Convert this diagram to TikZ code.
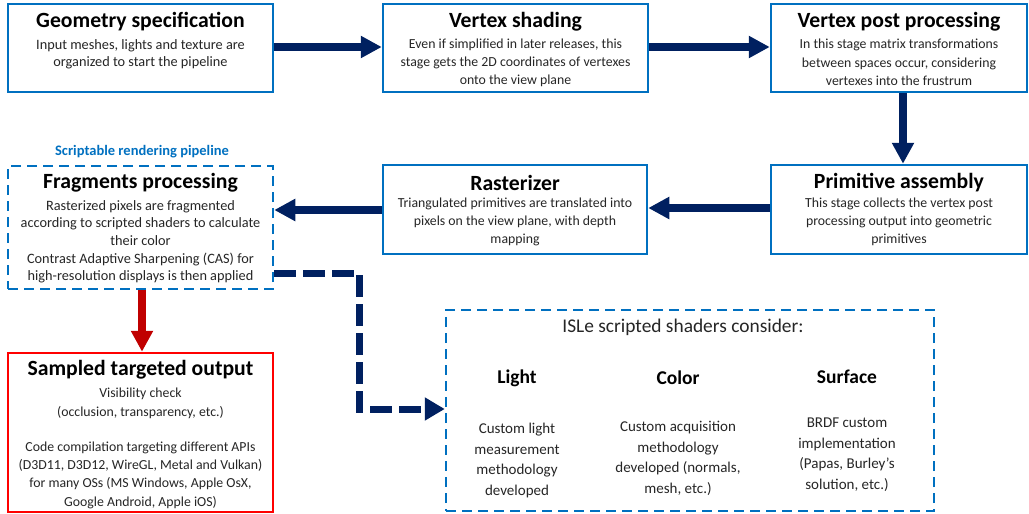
\documentclass[tikz,border=0pt]{standalone}
\usepackage{fontspec}
\setmainfont{Carlito}
\usetikzlibrary{arrows.meta}
\definecolor{boxblue}{RGB}{0,112,192}
\definecolor{navy}{RGB}{0,32,96}
\definecolor{darkred}{RGB}{192,0,0}
\definecolor{brightred}{RGB}{255,0,0}
\definecolor{txt}{RGB}{38,38,38}
\begin{document}
\begin{tikzpicture}[x=1pt,y=-1pt,
  stagebox/.style={draw=boxblue, line width=2.5pt, fill=white, inner sep=0pt},
  dashbox/.style={draw=boxblue, line width=2.5pt, dash pattern=on 10pt off 6pt, fill=white, inner sep=0pt},
  redbox/.style={draw=brightred, line width=2.5pt, fill=white, inner sep=0pt},
  title/.style={font=\fontsize{21.7}{26}\selectfont\bfseries, text=black, inner sep=0pt},
  body/.style={font=\fontsize{13.8}{18.3}\selectfont, text=txt, align=center, anchor=north, inner sep=0pt},
  isbody/.style={font=\fontsize{15}{20.5}\selectfont, text=txt, align=center, anchor=north, inner sep=0pt},
  ishead/.style={font=\fontsize{19.5}{23}\selectfont\bfseries, text=black, inner sep=0pt},
  flow/.style={draw=navy, line width=7.5pt, -{Triangle[width=21pt,length=21pt]}},
  redflow/.style={draw=darkred, line width=7.5pt, -{Triangle[width=21pt,length=21pt]}},
  dashflow/.style={draw=navy, line width=7pt, dash pattern=on 22pt off 7pt, -{Triangle[width=22pt,length=20pt]}}
]
\useasboundingbox (0,0) rectangle (1029,514);

% boxes
\node[stagebox, minimum width=265pt, minimum height=88pt] (geo) at (140.5,48) {};
\node[stagebox, minimum width=265pt, minimum height=88pt] (vs) at (515.5,48) {};
\node[stagebox, minimum width=256pt, minimum height=88pt] (vp) at (899,48) {};
\node[stagebox, minimum width=256pt, minimum height=89pt] (pa) at (899,209.5) {};
\node[stagebox, minimum width=264pt, minimum height=89pt] (ra) at (515,209.5) {};
\node[dashbox, minimum width=265pt, minimum height=123pt] (fp) at (140.5,227.5) {};
\node[redbox, minimum width=265pt, minimum height=159pt] (so) at (140.5,432.5) {};
\node[dashbox, minimum width=488pt, minimum height=201pt] (isle) at (690,410.5) {};

% texts
\node[title] (geoT) at (140.5,22) {Geometry specification};
\node[body, font=\fontsize{14.3}{17}\selectfont] (geoB) at (140.5,39) {Input meshes, lights and texture are\\organized to start the pipeline};

\node[title] (vsT) at (515.5,22) {Vertex shading};
\node[body] (vsB) at (515.5,38.5) {Even if simplified in later releases, this\\stage gets the 2D coordinates of vertexes\\onto the view plane};

\node[title] (vpT) at (899,22) {Vertex post processing};
\node[body] (vpB) at (899,39) {In this stage matrix transformations\\between spaces occur, considering\\vertexes into the frustrum};

\node[title] (paT) at (899,183) {Primitive assembly};
\node[body] (paB) at (899,197.5) {This stage collects the vertex post\\processing output into geometric\\primitives};

\node[title] (raT) at (515,183) {Rasterizer};
\node[body] (raB) at (515,197.5) {Triangulated primitives are translated into\\pixels on the view plane, with depth\\mapping};

\node[font=\fontsize{14.5}{17}\selectfont\bfseries, text=boxblue, inner sep=0pt] (lab) at (142,152) {Scriptable rendering pipeline};
\node[title] (fpT) at (140.5,183) {Fragments processing};
\node[body, font=\fontsize{14.3}{17.7}\selectfont] (fpB) at (140.5,200) {Rasterized pixels are fragmented\\according to scripted shaders to calculate\\their color\\Contrast Adaptive Sharpening (CAS) for\\high-resolution displays is then applied};

\node[title] (soT) at (140.5,370) {Sampled targeted output};
\node[body] (soB) at (140.5,388) {Visibility check\\(occlusion, transparency, etc.)\\[17pt]Code compilation targeting different APIs\\(D3D11, D3D12, WireGL, Metal and Vulkan)\\for many OSs (MS Windows, Apple OsX,\\Google Android, Apple iOS)};

\node[font=\fontsize{19.4}{23}\selectfont, text=txt, inner sep=0pt] (isT) at (683,327) {ISLe scripted shaders consider:};
\node[ishead] (lightH) at (517,378) {Light};
\node[ishead] (colorH) at (678,378) {Color};
\node[ishead] (surfH) at (847,377) {Surface};
\node[isbody] (lightB) at (517,423) {Custom light\\measurement\\methodology\\developed};
\node[isbody] (colorB) at (678,421) {Custom acquisition\\methodology\\developed (normals,\\mesh, etc.)};
\node[isbody] (surfB) at (847,418) {BRDF custom\\implementation\\(Papas, Burley’s\\solution, etc.)};

% connectors
\draw[flow] (geo.east |- 0,47) -- (vs.west |- 0,47);
\draw[flow] (vs.east |- 0,47) -- (vp.west |- 0,47);
\draw[flow] (vp.south -| 903,0) -- (pa.north -| 903,0);
\draw[flow] (pa.west |- 0,208) -- (ra.east |- 0,208);
\draw[flow] (ra.west |- 0,210) -- (fp.east |- 0,210);
\draw[redflow] (fp.south -| 142,0) -- (so.north -| 142,0);
\coordinate (d1) at (359,273);
\coordinate (d2) at (359,409);
\draw[dashflow] (fp.east |- 0,273) -- (d1) -- (d2) -- (isle.west |- 0,409);
\end{tikzpicture}
\end{document}
